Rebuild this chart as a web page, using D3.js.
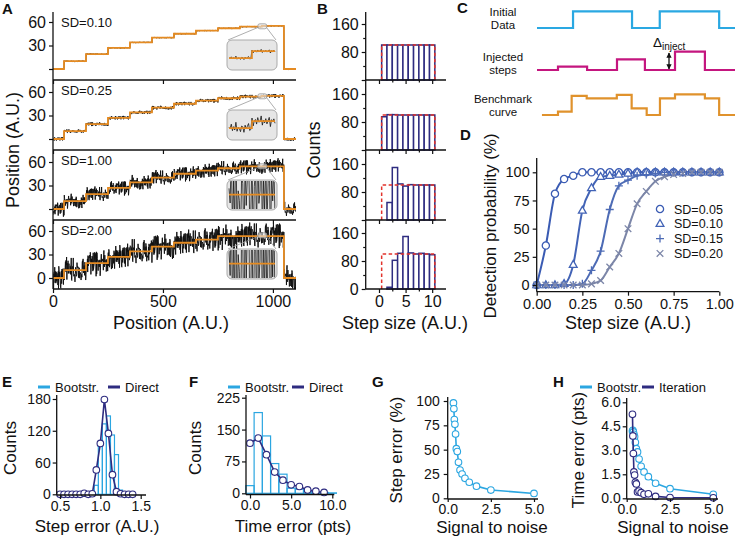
<!DOCTYPE html>
<html><head><meta charset="utf-8">
<script src="https://cdn.jsdelivr.net/npm/d3@7/dist/d3.min.js"></script>
<style>
html,body{margin:0;padding:0;background:#fff;}
svg{display:block;font-family:"Liberation Sans",Arial,Helvetica,sans-serif;}
</style></head><body>
<svg id="chart" width="736" height="539"></svg>
<script>
// ================= DATA =================
// Panel A
const sdLabelsA = ["SD=0.10","SD=0.25","SD=1.00","SD=2.00"];
const noiseAmpA = [0.3, 0.9, 3.5, 6.0];
const insetNoiseAmpA = [0.1, 0.3, 3.5, 6.0];
const stepEdgesA = [0,50,150,250,350,450,550,650,750,850,950,1050,1105];
const stepLevelsA = [0,10,19,27,34,40,45,49,52,54,55,0];
const fitEdgesA = [
  [0,50,150,250,350,450,550,650,750,850,950,1050,1105],
  [0,50,150,250,350,450,550,650,750,850,950,1050,1105],
  [0,50,150,250,350,450,550,650,750,850,1050,1105],
  [0,50,150,250,350,450,550,650,750,1050,1105]];
const fitLevelsA = [
  [0,10,19,27,34,40,45,49,52,54,55,0],
  [0,10,19,27,34,40,45,49,52,54,55,0],
  [0,10,19,27,34,40,45,49,52,54.5,0],
  [0,10,19,27,34,40,45,49,53.5,0]];
const insetFitA = [[54,55],[54,55],[54.5,54.5],[54.5,54.5]];
const noiseA = [
0.3,-1.2,0.8,1.9,-0.4,-1.7,0.6,2.3,-0.9,0.1,-2.1,1.4,0.5,-0.8,1.1,-1.5,2.6,-0.3,-1.1,0.9,
0.2,-2.4,1.7,-0.6,0.4,1.3,-1.9,0.7,-0.2,2.0,-1.3,0.5,-0.7,1.6,-2.7,0.9,0.3,-1.0,1.8,-0.5,
1.2,-1.6,0.1,2.4,-0.9,-0.3,1.0,-2.2,0.6,1.5,-0.4,-1.4,2.1,0.2,-1.8,0.8,1.3,-0.6,-2.5,1.1,
0.4,-0.2,1.9,-1.2,0.7,-0.9,2.8,-1.5,0.3,-0.1,-1.7,1.0,0.6,-2.0,1.4,-0.3,0.9,2.2,-1.1,-0.6,
1.5,-2.3,0.2,0.8,-1.4,1.7,-0.5,0.0,2.5,-1.9,0.5,-0.8,1.2,-1.3,0.3,1.8,-2.6,0.7,-0.4,1.1,
-1.0,2.0,-0.2,-1.6,0.9,0.4,-2.1,1.6,-0.7,1.3,0.1,-1.5,2.3,-0.9,0.6,-0.3,1.0,-2.4,1.8,-0.1,
-1.2,0.8,1.4,-0.6,-1.8,2.7,0.2,-1.0,0.5,1.2,-2.0,0.3,-0.5,1.9,-1.3,0.7,1.1,-2.2,0.4,-0.8,
2.1,-0.4,-1.6,1.0,0.6,-1.1,1.7,-2.8,0.9,0.2,-0.7,1.5,-1.4,0.3,2.4,-1.9,0.1,0.8,-1.2,1.3,
-0.3,-2.3,1.6,0.5,-0.9,1.9,-1.5,0.0,2.2,-0.6,-1.7,0.4,1.2,-2.5,0.7,1.0,-0.4,-1.1,2.6,-0.2,
0.9,-1.8,0.3,1.4,-0.8,-2.0,1.8,0.6,-1.3,0.2,1.1,-0.5,-2.2,2.0,-0.1,0.8,-1.6,1.5,-0.9,0.4,
-1.4,2.3,-0.7,-0.2,1.7,-2.1,0.5,1.2,-1.0,0.1,0.6];
const xTicksA = [0,500,1000];
const yTicksA = [0,30,60];

// Panel B
const stepSizesB = [1,2,3,4,5,6,7,8,9,10];
const countsB = [
  [100,100,100,100,100,100,100,100,100,100],
  [95,101,101,100,100,100,100,100,100,100],
  [0,50,150,103,97,101,100,100,100,100],
  [0,5,82,102,150,103,100,102,100,98]];
const trueCountB = 100;
const trueRangeB = [0.5,10.5];
const xTicksB = [0,5,10];
const yTicksB = [0,80,160];

// Panel C (schematic step traces)
const cNames = [["Initial","Data"],["Injected","steps"],["Benchmark","curve"]];
const cBlueT = [0,18.2,48,62,92,100],  cBlueV = [0,1,0,1,0,0];
const cMagT = [0,10.6,25.3,40.4,54.5,69.7,84.8,100], cMagV = [0,0.2,0,0.64,0,1.1,0,0];
const cOrgT = [2.5,10.6,17.5,25.1,40.3,47.8,55.4,62.1,69.7,84.8,92,100];
const cOrgV = [0,0.2,1.14,1.0,1.2,0.4,0,1.0,1.24,1.0,0,0];

// Panel D
const dStep = [0,0.05,0.10,0.15,0.20,0.25,0.30,0.35,0.40,0.45,0.50,0.55,0.60,0.65,0.70,0.75,0.80,0.85,0.90,0.95,1.00];
const dLabels = ["SD=0.05","SD=0.10","SD=0.15","SD=0.20"];
const dProb005 = [0,35,81,94,97,100,100,100,100,100,100,100,100,100,100,100,100,100,100,100,100];
const dProb010 = [0,0,0,1,18,66,86,96,97,98,99,100,100,100,100,100,100,100,100,100,100];
const dProb015 = [0,0,0,0,0,1,13,30,67,88,93,97,98,99,100,100,100,100,100,100,100];
const dProb020 = [0,0,0,0,0,0,1,4,16,28,50,72,83,92,96,98,99,100,100,100,100];
const yTicksD = [0,25,50,75,100];
const xTicksD = [0,0.25,0.5,0.75,1.0];

// Panel E
const eBinX = [0.95,1.0,1.05,1.1,1.15,1.2,1.25];
const eBoot = [17,93,133,148,112,75,8];
const eDirX = [0.5,0.55,0.6,0.65,0.7,0.75,0.8,0.85,0.9,0.95,1.0,1.05,1.1,1.15,1.2,1.25,1.3,1.35,1.4];
const eDir = [0,0,0,0,0,0,2,0,1,46,96,179,115,37,5,1,0,0,0];

// Panel F
const fBinX = [0,1,2,3,4,5,6,7,8,9,10];
const fBoot = [18,190,135,70,45,12,10,5,3,2,1];
const fDirX = [0,1,2,3,4,5,6,7,8,9];
const fDir = [118,130,91,50,31,20,16,8,5,2];

// Panels G, H
const snr = [0.333,0.357,0.385,0.417,0.455,0.5,0.556,0.625,0.714,0.833,1.0,1.25,1.667,2.5,5.0];
const gStepErr = [98,92,81,76,66,51,48,37,29,25,20.5,16.5,12.5,8.5,5];
const hBoot = [4.2,4.25,4.15,4.0,3.85,3.5,3.1,2.9,2.45,2.0,1.65,1.35,0.94,0.6,0.25];
const hIter = [5.25,3.9,2.8,1.65,1.45,1.0,0.9,0.4,0.45,0.35,0.25,0.28,0.12,0.05,0.03];

// ================= DRAWING =================
const NAVY = "#2e2c80", LBLUE = "#2ba6e1", ORANGE = "#e58b22", RED = "#e2332c";
const svg = d3.select("#chart");
const defs = svg.append("defs");

function text(g, x, y, s, size, o = {}) {
  const t = g.append("text").attr("x", x).attr("y", y).attr("font-size", size)
    .attr("text-anchor", o.anchor || "start").attr("fill", o.fill || "#111").text(s);
  if (o.bold) t.attr("font-weight", "bold");
  if (o.rot) t.attr("transform", `rotate(-90,${x},${y})`);
  return t;
}
function hline(g, x1, x2, y, w = 1.3) {
  g.append("line").attr("x1", x1).attr("x2", x2).attr("y1", y).attr("y2", y).attr("stroke", "#111").attr("stroke-width", w);
}
function vline(g, x, y1, y2, w = 1.3) {
  g.append("line").attr("x1", x).attr("x2", x).attr("y1", y1).attr("y2", y2).attr("stroke", "#111").attr("stroke-width", w);
}
function styleAxis(a, size) {
  a.select(".domain").remove();
  a.attr("font-size", size).attr("font-family", null);
  a.selectAll(".tick line").attr("stroke-width", 1.2).attr("stroke", "#111");
  a.selectAll(".tick text").attr("fill", "#111");
}
function axisL(g, scale, x, ticks, fmt, size, tl = 4, pad = 3) {
  const a = g.append("g").attr("transform", `translate(${x},0)`)
    .call(d3.axisLeft(scale).tickValues(ticks).tickFormat(fmt).tickSize(tl).tickPadding(pad));
  styleAxis(a, size); return a;
}
function axisB(g, scale, y, ticks, fmt, size, tl = 4, pad = 3) {
  const a = g.append("g").attr("transform", `translate(0,${y})`)
    .call(d3.axisBottom(scale).tickValues(ticks).tickFormat(fmt).tickSize(tl).tickPadding(pad));
  styleAxis(a, size); return a;
}
function levelAt(edges, levels, x) {
  for (let i = 0; i < levels.length; i++) if (x >= edges[i] && x < edges[i + 1]) return levels[i];
  return levels[levels.length - 1];
}
function stepPoints(edges, levels) {
  const p = levels.map((v, i) => [edges[i], v]);
  p.push([edges[edges.length - 1], levels[levels.length - 1]]);
  return p;
}

// ---------- Panel A ----------
{
  const g = svg.append("g");
  const xA = d3.scaleLinear([0, 1105], [53, 296]);
  const tops = [12, 80, 150, 220], bots = [80, 150, 220, 289];
  const N = noiseA.length;
  const M = 4 * (N - 1) + 1; // trace samples (noise values reused in a shuffled order)
  sdLabelsA.forEach((lab, k) => {
    const top = tops[k], bot = bots[k];
    const yA = d3.scaleLinear([0, 60], [bot - 11, bot - 58]);
    const cid = "clipA" + k;
    defs.append("clipPath").attr("id", cid).append("rect").attr("x", 53).attr("y", top).attr("width", 243).attr("height", bot - top);
    const pg = g.append("g").attr("clip-path", `url(#${cid})`);
    const trace = d3.range(M).map(i => {
      const x = i * 1105 / (M - 1);
      return [x, levelAt(stepEdgesA, stepLevelsA, x) + noiseAmpA[k] * noiseA[(i * 7 + k * 53) % N]];
    });
    pg.append("path").attr("d", d3.line().x(d => xA(d[0])).y(d => yA(d[1]))(trace))
      .attr("fill", "none").attr("stroke", "#101010").attr("stroke-width", k < 2 ? 0.9 : 0.95);
    pg.append("path").attr("d", d3.line().curve(d3.curveStepAfter).x(d => xA(d[0])).y(d => yA(d[1]))(stepPoints(fitEdgesA[k], fitLevelsA[k])))
      .attr("fill", "none").attr("stroke", ORANGE).attr("stroke-width", 1.8);
    // inset
    const cx = xA(952), cy = yA(54.5);
    const ix0 = 227, ix1 = 277, iy0 = bot - 40, iy1 = bot - 10;
    g.append("line").attr("x1", cx - 4).attr("y1", cy + 1).attr("x2", ix0 + 1).attr("y2", iy0).attr("stroke", "#999").attr("stroke-width", 0.8);
    g.append("line").attr("x1", cx + 4).attr("y1", cy + 1).attr("x2", ix1 - 1).attr("y2", iy0).attr("stroke", "#999").attr("stroke-width", 0.8);
    g.append("rect").attr("x", cx - 4.5).attr("y", cy - 2.5).attr("width", 9).attr("height", 5).attr("rx", 2)
      .attr("fill", "rgba(230,230,230,0.6)").attr("stroke", "#999").attr("stroke-width", 0.8);
    g.append("rect").attr("x", ix0).attr("y", iy0).attr("width", ix1 - ix0).attr("height", iy1 - iy0).attr("rx", 5)
      .attr("fill", "#e6e6e6").attr("stroke", "#aaa").attr("stroke-width", 1);
    const icid = "clipI" + k;
    defs.append("clipPath").attr("id", icid).append("rect").attr("x", ix0 + 1).attr("y", iy0 + 1).attr("width", ix1 - ix0 - 2).attr("height", iy1 - iy0 - 2).attr("rx", 4);
    const ig = g.append("g").attr("clip-path", `url(#${icid})`);
    const xI = d3.scaleLinear([930, 970], [229, 275]);
    const yI = d3.scaleLinear([52.3, 56.6], [iy1, iy0]);
    const itrace = noiseA.slice(60, 101).map((n, i) => {
      const x = 930 + i; return [x, levelAt(stepEdgesA, stepLevelsA, x) + insetNoiseAmpA[k] * n];
    });
    ig.append("path").attr("d", d3.line().x(d => xI(d[0])).y(d => yI(d[1]))(itrace))
      .attr("fill", "none").attr("stroke", "#151515").attr("stroke-width", 0.8);
    ig.append("path").attr("d", d3.line().curve(d3.curveStepAfter).x(d => xI(d[0])).y(d => yI(d[1]))([[930, insetFitA[k][0]], [950, insetFitA[k][1]], [970, insetFitA[k][1]]]))
      .attr("fill", "none").attr("stroke", ORANGE).attr("stroke-width", 1.6);
    // axes
    vline(g, 53, top, bot); hline(g, 53, 296, bot);
    axisB(g, xA, bot, xTicksA, k === 3 ? d3.format("d") : () => "", 16, 4);
    axisL(g, yA, 53, yTicksA, d => (d === 0 && k < 3) ? "" : d, 16, 4);
    text(g, 61, top + 15, lab, 13);
  });
  text(g, 171, 329, "Position (A.U.)", 18, { anchor: "middle" });
  text(g, 19, 150, "Position (A.U.)", 18, { anchor: "middle", rot: true });
  text(g, 2, 14, "A", 15, { bold: true });
}

// ---------- Panel B ----------
{
  const g = svg.append("g");
  const xB = d3.scaleLinear([-2.5, 12.6], [365.7, 446]);
  const tops = [12, 80, 150, 220], bots = [80, 150, 220, 289];
  countsB.forEach((cnt, k) => {
    const top = tops[k], bot = bots[k];
    const yB = d3.scaleLinear([0, 160], [bot, bot - 56]);
    g.selectAll(null).data(stepSizesB.map((s, i) => [s, cnt[i]])).join("rect")
      .attr("x", d => xB(d[0] - 0.5)).attr("width", d => xB(d[0] + 0.5) - xB(d[0] - 0.5))
      .attr("y", d => yB(d[1])).attr("height", d => yB(0) - yB(d[1]))
      .attr("fill", "#fff").attr("stroke", NAVY).attr("stroke-width", 1.5);
    g.append("path").attr("d", d3.line().x(d => xB(d[0])).y(d => yB(d[1]))([[trueRangeB[0], 0], [trueRangeB[0], trueCountB], [trueRangeB[1], trueCountB], [trueRangeB[1], 0]]))
      .attr("fill", "none").attr("stroke", RED).attr("stroke-width", 1.5).attr("stroke-dasharray", "3.5,2.5");
    vline(g, 365.7, top, bot); hline(g, 365.7, 446, bot);
    axisB(g, xB, bot, xTicksB, k === 3 ? d3.format("d") : () => "", 16, 4);
    axisB(g, xB, bot, [2.5, 7.5], () => "", 16, 2.5);
    axisL(g, yB, 365.7, yTicksB, d => (d === 0 && k < 3) ? "" : d, 16, 4);
    axisL(g, yB, 365.7, [40, 120], () => "", 16, 2.5);
  });
  text(g, 405, 329, "Step size (A.U.)", 18, { anchor: "middle" });
  text(g, 320, 150, "Counts", 18, { anchor: "middle", rot: true });
  text(g, 317, 14, "B", 15, { bold: true });
}

// ---------- Panel C ----------
{
  const g = svg.append("g");
  const xC = d3.scaleLinear([0, 100], [537, 735]);
  const h = 16.7;
  const draw = (T, V, base, col) => {
    const y = v => base - v * h;
    g.append("path").attr("d", d3.line().curve(d3.curveStepAfter).x(d => xC(d[0])).y(d => y(d[1]))(T.map((t, i) => [t, V[i]])))
      .attr("fill", "none").attr("stroke", col).attr("stroke-width", 2.2);
  };
  draw(cBlueT, cBlueV, 28, "#2aa8e2");
  draw(cMagT, cMagV, 70, "#c4167f");
  draw(cOrgT, cOrgV, 115, "#e0922c");
  const ys = [15.5, 60.5, 102.5];
  cNames.forEach((nm, i) => {
    text(g, 503, ys[i], nm[0], 11.5, { anchor: "middle" });
    text(g, 503, ys[i] + 13, nm[1], 11.5, { anchor: "middle" });
  });
  defs.append("marker").attr("id", "arr").attr("viewBox", "0 0 10 10").attr("refX", 9).attr("refY", 5)
    .attr("markerWidth", 4).attr("markerHeight", 4).attr("orient", "auto-start-reverse")
    .append("path").attr("d", "M0,0L10,5L0,10Z").attr("fill", "#111");
  g.append("line").attr("x1", 669).attr("x2", 669).attr("y1", 53).attr("y2", 69).attr("stroke", "#111").attr("stroke-width", 1.3)
    .attr("marker-start", "url(#arr)").attr("marker-end", "url(#arr)");
  const t = text(g, 653, 47, "Δ", 13.5);
  t.append("tspan").attr("font-size", 10).attr("dy", 3).text("inject");
  text(g, 457, 13, "C", 15, { bold: true });
}

// ---------- Panel D ----------
{
  const g = svg.append("g");
  const xD = d3.scaleLinear([0, 1], [536.7, 719.3]);
  const yD = d3.scaleLinear([0, 100], [285, 172.3]);
  const series = [dProb005, dProb010, dProb015, dProb020];
  const cols = ["#3a5bb3", "#4263b6", "#4d6bb5", "#7c86a8"];
  const markers = [
    (s) => s.append("circle").attr("r", 3.6),
    (s) => s.append("path").attr("d", "M0,-4.3L3.9,2.6L-3.9,2.6Z"),
    (s) => s.append("path").attr("d", "M-4,0H4M0,-4V4"),
    (s) => s.append("path").attr("d", "M-3.3,-3.3L3.3,3.3M-3.3,3.3L3.3,-3.3")];
  series.forEach((vals, k) => {
    const pts = dStep.map((x, i) => [x, vals[i]]);
    g.append("path").attr("d", d3.line().curve(d3.curveMonotoneX).x(d => xD(d[0])).y(d => yD(d[1]))(pts))
      .attr("fill", "none").attr("stroke", cols[k]).attr("stroke-width", 2);
  });
  series.forEach((vals, k) => {
    const mg = g.selectAll(null).data(dStep.map((x, i) => [x, vals[i]])).join("g")
      .attr("transform", d => `translate(${xD(d[0])},${yD(d[1])})`);
    markers[k](mg).attr("fill", k < 2 ? "#fff" : "none").attr("stroke", cols[k]).attr("stroke-width", 1.3);
  });
  vline(g, 536.7, 158, 291.7); hline(g, 536.7, 719.3, 291.7);
  axisL(g, yD, 536.7, yTicksD, d3.format("d"), 14.5, 4);
  axisB(g, xD, 291.7, xTicksD, d3.format(".2f"), 14.5, 4);
  dLabels.forEach((lab, k) => {
    const ly = 209 + k * 14.8;
    const mg = g.append("g").attr("transform", `translate(660,${ly})`);
    markers[k](mg).attr("fill", k < 2 ? "#fff" : "none").attr("stroke", cols[k]).attr("stroke-width", 1.3);
    text(g, 674, ly + 4.5, lab, 12.5);
  });
  text(g, 628, 329, "Step size (A.U.)", 18, { anchor: "middle" });
  text(g, 496, 226, "Detection probability (%)", 17, { anchor: "middle", rot: true });
  text(g, 460, 140, "D", 15, { bold: true });
}

// ---------- bottom-row helpers ----------
function legend(g, x, y, items) {
  items.forEach(([lab, col, dx]) => {
    g.append("line").attr("x1", x + dx).attr("x2", x + dx + 12).attr("y1", y).attr("y2", y).attr("stroke", col).attr("stroke-width", 3);
    text(g, x + dx + 17, y + 4.5, lab, 13);
  });
}
function dotLine(g, X, Y, xs, ys, col) {
  const pts = xs.map((x, i) => [x, ys[i]]);
  g.append("path").attr("d", d3.line().x(d => X(d[0])).y(d => Y(d[1]))(pts)).attr("fill", "none").attr("stroke", col).attr("stroke-width", 1.6);
  g.selectAll(null).data(pts).join("circle").attr("cx", d => X(d[0])).attr("cy", d => Y(d[1])).attr("r", 3.3)
    .attr("fill", "#fff").attr("stroke", col).attr("stroke-width", 1.1);
}
const TK = 14, TT = 17, TB = 532;

// ---------- Panel E ----------
{
  const g = svg.append("g");
  const X = d3.scaleLinear([0.5, 1.5], [60, 140.7]);
  const Y = d3.scaleLinear([0, 180], [494.3, 399]);
  const bw = 0.05;
  g.selectAll(null).data(eBinX.map((x, i) => [x, eBoot[i]])).join("rect")
    .attr("x", d => X(d[0] - bw / 2)).attr("width", X(bw) - X(0)).attr("y", d => Y(d[1])).attr("height", d => Y(0) - Y(d[1]))
    .attr("fill", "none").attr("stroke", LBLUE).attr("stroke-width", 1.2);
  dotLine(g, X, Y, eDirX, eDir, NAVY);
  vline(g, 56.7, 395, 495); hline(g, 56.7, 146, 495);
  axisL(g, Y, 56.7, [0, 60, 120, 180], d3.format("d"), TK, 4, 2);
  axisB(g, X, 495, [0.5, 1.0, 1.5], d3.format(".1f"), TK, 4, 2);
  text(g, 97, TB, "Step error (A.U.)", TT, { anchor: "middle" });
  text(g, 16, 448, "Counts", TT, { anchor: "middle", rot: true });
  legend(g, 38, 387, [["Bootstr.", LBLUE, 0], ["Direct", NAVY, 70]]);
  text(g, 2, 387, "E", 15, { bold: true });
}

// ---------- Panel F ----------
{
  const g = svg.append("g");
  const X = d3.scaleLinear([0, 10], [250, 332.3]);
  const Y = d3.scaleLinear([0, 225], [493.3, 397.7]);
  g.selectAll(null).data(fBinX.map((x, i) => [x, fBoot[i]])).join("rect")
    .attr("x", d => X(d[0] - 0.5)).attr("width", X(1) - X(0)).attr("y", d => Y(d[1])).attr("height", d => Y(0) - Y(d[1]))
    .attr("fill", "none").attr("stroke", LBLUE).attr("stroke-width", 1.2);
  dotLine(g, X, Y, fDirX, fDir, NAVY);
  vline(g, 246, 395, 494.5); hline(g, 246, 334.3, 494.5);
  axisL(g, Y, 246, [0, 75, 150, 225], d3.format("d"), TK, 4, 2);
  axisB(g, X, 494.5, [0, 5, 10], d3.format(".1f"), TK, 4, 2);
  text(g, 293, TB, "Time error (pts)", TT, { anchor: "middle" });
  text(g, 201, 448, "Counts", TT, { anchor: "middle", rot: true });
  legend(g, 228, 387, [["Bootstr.", LBLUE, 0], ["Direct", NAVY, 64]]);
  text(g, 189, 387, "F", 15, { bold: true });
}

// ---------- Panel G ----------
{
  const g = svg.append("g");
  const X = d3.scaleLinear([0, 5], [447.7, 534]);
  const Y = d3.scaleLinear([0, 100], [498.3, 401]);
  dotLine(g, X, Y, snr, gStepErr, LBLUE);
  vline(g, 447.7, 397, 499); hline(g, 447.7, 538, 499);
  axisL(g, Y, 447.7, [0, 25, 50, 75, 100], d3.format("d"), TK, 4, 4);
  axisB(g, X, 499, [0, 2.5, 5], d3.format(".1f"), TK, 3, 2);
  text(g, 492, TB + 1, "Signal to noise", TT, { anchor: "middle" });
  text(g, 402, 450, "Step error (%)", TT, { anchor: "middle", rot: true });
  text(g, 372, 387, "G", 15, { bold: true });
}

// ---------- Panel H ----------
{
  const g = svg.append("g");
  const X = d3.scaleLinear([0, 5], [626.7, 713.3]);
  const Y = d3.scaleLinear([0, 6], [498.3, 402.3]);
  dotLine(g, X, Y, snr, hBoot, LBLUE);
  dotLine(g, X, Y, snr, hIter, NAVY);
  vline(g, 626.7, 398, 499); hline(g, 626.7, 718, 499);
  axisL(g, Y, 626.7, [0, 1.5, 3, 4.5, 6], d3.format(".1f"), TK, 4, 2);
  axisB(g, X, 499, [0, 2.5, 5], d3.format(".1f"), TK, 3, 2);
  text(g, 673, TB + 1, "Signal to noise", TT, { anchor: "middle" });
  text(g, 584, 450, "Time error (pts)", TT, { anchor: "middle", rot: true });
  legend(g, 580, 387, [["Bootstr.", LBLUE, 0], ["Iteration", NAVY, 62]]);
  text(g, 553, 387, "H", 15, { bold: true });
}
</script>
</body></html>
